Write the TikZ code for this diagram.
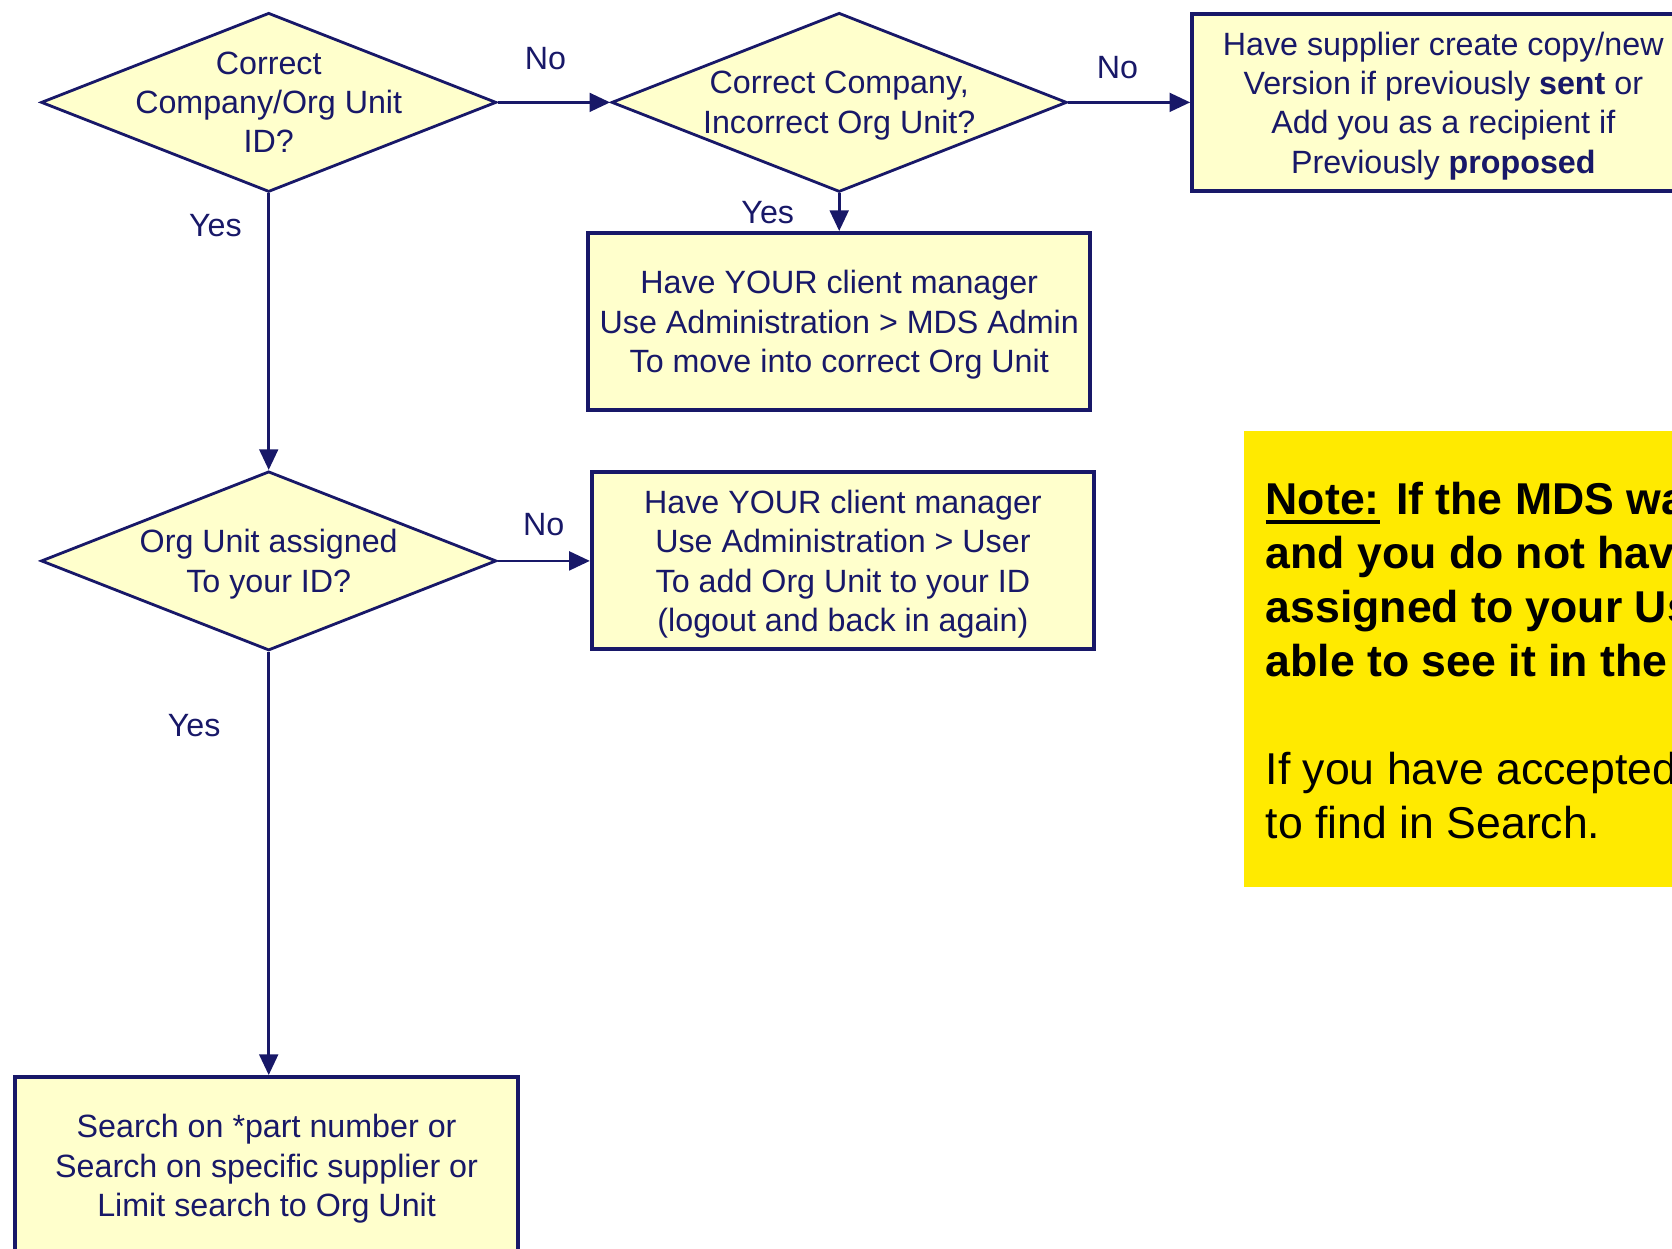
\documentclass[tikz,border=0pt]{standalone}
\usepackage{fontspec}
\setmainfont{Liberation Sans}
\usetikzlibrary{shapes.geometric,arrows.meta,positioning}
\definecolor{navy}{RGB}{24,24,104}
\definecolor{paleyellow}{RGB}{255,255,204}
\definecolor{noteyellow}{RGB}{255,234,0}
\newcommand{\boxfont}{\fontsize{8.6pt}{10.5pt}\selectfont}
\newcommand{\notefont}{\fontsize{11.9pt}{14.4pt}\selectfont}
\newlength{\ulwd}
\newcommand{\noteul}[1]{\settowidth{\ulwd}{#1}\rlap{\rule[-2.6pt]{\ulwd}{1.1pt}}#1}

\begin{document}
\begin{tikzpicture}[
    decision/.style={draw=navy, line width=0.75pt, fill=paleyellow, diamond, minimum width=4.27cm, minimum height=1.68cm, inner sep=0pt},
    qtext/.style={text=navy, font=\boxfont, align=center, inner sep=0pt, text depth=0pt},
    stepbox/.style={draw=navy, line width=1.05pt, fill=paleyellow, rectangle, minimum width=4.71cm, minimum height=1.66cm, inner sep=0pt, text=navy, font=\boxfont, align=center, text depth=0pt},
    flow/.style={draw=navy, line width=0.7pt, -{Triangle[length=5.5pt,width=5pt]}},
    lbl/.style={text=navy, font=\boxfont, inner sep=0pt},
    notebox/.style={fill=noteyellow, minimum width=4.6cm, minimum height=4.28cm, inner sep=0pt},
    notetext/.style={font=\notefont, align=left, inner sep=0pt, anchor=north west}
  ]
  \useasboundingbox (0,0) rectangle (15.68,-11.71);
  \clip (0,0) rectangle (15.68,-11.71);

  % questions
  \node[decision] (d1) at (2.52,-0.96) {};
  \node[qtext] (d1t) at (d1) {Correct\\Company/Org Unit\\ID?};
  \node[decision] (d2) [right of=d1, xshift=4.35cm] {};
  \node[qtext] (d2t) at (d2) {Correct Company,\\Incorrect Org Unit?};
  \node[decision] (d3) [below of=d1, yshift=-3.3cm] {};
  \node[qtext] (d3t) at (d3) {Org Unit assigned\\To your ID?};

  % actions
  \node[stepbox] (b3) [right of=d2, xshift=4.665cm] {Have supplier create copy/new\\Version if previously \textbf{sent} or\\Add you as a recipient if\\Previously \textbf{proposed}};
  \node[stepbox] (b1) [below of=d2, yshift=-1.055cm] {Have YOUR client manager\\Use Administration > MDS Admin\\To move into correct Org Unit};
  \node[stepbox] (b2) [right of=d3, xshift=4.385cm] {Have YOUR client manager\\Use Administration > User\\To add Org Unit to your ID\\(logout and back in again)};
  \node[stepbox] (b4) [below of=d3, xshift=-0.02cm, yshift=-4.67cm] {Search on *part number or\\Search on specific supplier or\\Limit search to Org Unit};

  % note
  \node[notebox] (note) at (13.97,-6.18) {};
  \node[notetext] (notetxt) at ([xshift=0.2cm, yshift=-0.48cm]note.north west) {\noteul{\textbf{Note:}} \textbf{If the MDS wa}\\
    \textbf{and you do not hav}\\
    \textbf{assigned to your Us}\\
    \textbf{able to see it in the}\\[14.4pt]
    If you have accepted\\
    to find in Search.};

  % connectors
  \draw[flow] (d1) -- node[lbl, xshift=-0.08cm, yshift=0.41cm] (no1) {No} (d2);
  \draw[flow] (d2) -- node[lbl, xshift=-0.11cm, yshift=0.33cm] (no2) {No} (b3);
  \draw[flow] (d2) -- node[lbl, xshift=-0.67cm] (yes2) {Yes} (b1);
  \draw[flow] (d1) -- node[lbl, pos=0.115, xshift=-0.5cm] (yes1) {Yes} (d3);
  \draw[flow] (d3) -- node[lbl, yshift=0.34cm] (no3) {No} (b2);
  \draw[flow] (d3) -- node[lbl, pos=0.175, xshift=-0.7cm] (yes3) {Yes} (d3 |- b4.north);
\end{tikzpicture}
\end{document}
